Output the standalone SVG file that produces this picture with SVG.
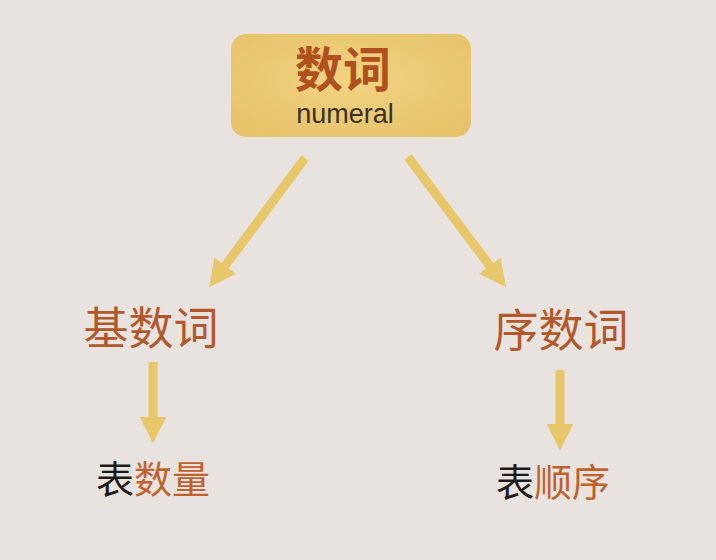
<svg xmlns="http://www.w3.org/2000/svg" width="716" height="560" viewBox="0 0 716 560">
  <defs>
    <radialGradient id="boxFill" cx="50%" cy="45%" r="65%">
      <stop offset="0%" stop-color="#f1d382"/>
      <stop offset="100%" stop-color="#e7c36a"/>
    </radialGradient>
    <marker id="head" viewBox="0 0 10 10" refX="2" refY="5" markerWidth="3" markerHeight="3" markerUnits="strokeWidth" orient="auto">
      <path d="M0,0 L10,5 L0,10 Z" fill="#e8c66a"/>
    </marker>
  </defs>
  <style>
    .cn { font-family: "Noto Sans CJK SC", "Noto Sans", sans-serif; }
    .lvl1 { font-size: 45px; fill: #b2582d; text-anchor: middle; }
    .lvl2 { font-size: 38px; text-anchor: start; }
    .blk { fill: #1e1a18; }
    .org { fill: #c0622e; }
    .conn { stroke: #e8c66a; stroke-width: 9; fill: none; marker-end: url(#head); }
  </style>
  <rect x="0" y="0" width="716" height="560" fill="#e8e3df"/>

  <g id="root">
    <rect x="231" y="34" width="240" height="103" rx="15" ry="15" fill="url(#boxFill)"/>
    <text class="cn" x="343" y="87" font-size="48" font-weight="bold" fill="#b0501e" text-anchor="middle">数词</text>
    <text x="345" y="123" font-family="Liberation Sans, Arial, sans-serif" font-size="27" fill="#3b3122" text-anchor="middle">numeral</text>
  </g>

  <g id="cardinal">
    <text class="cn lvl1" x="151" y="345">基数词</text>
  </g>
  <g id="ordinal">
    <text class="cn lvl1" x="561" y="347">序数词</text>
  </g>
  <g id="quantity">
    <text class="cn lvl2" x="96" y="493"><tspan class="blk">表</tspan><tspan class="org">数量</tspan></text>
  </g>
  <g id="order">
    <text class="cn lvl2" x="496" y="496"><tspan class="blk">表</tspan><tspan class="org">顺序</tspan></text>
  </g>

  <g id="connectors">
    <line class="conn" x1="305" y1="158" x2="222" y2="270"/>
    <line class="conn" x1="408" y1="157" x2="493" y2="270"/>
    <line class="conn" x1="153" y1="362" x2="153" y2="422"/>
    <line class="conn" x1="560" y1="370" x2="560" y2="429"/>
  </g>
</svg>
